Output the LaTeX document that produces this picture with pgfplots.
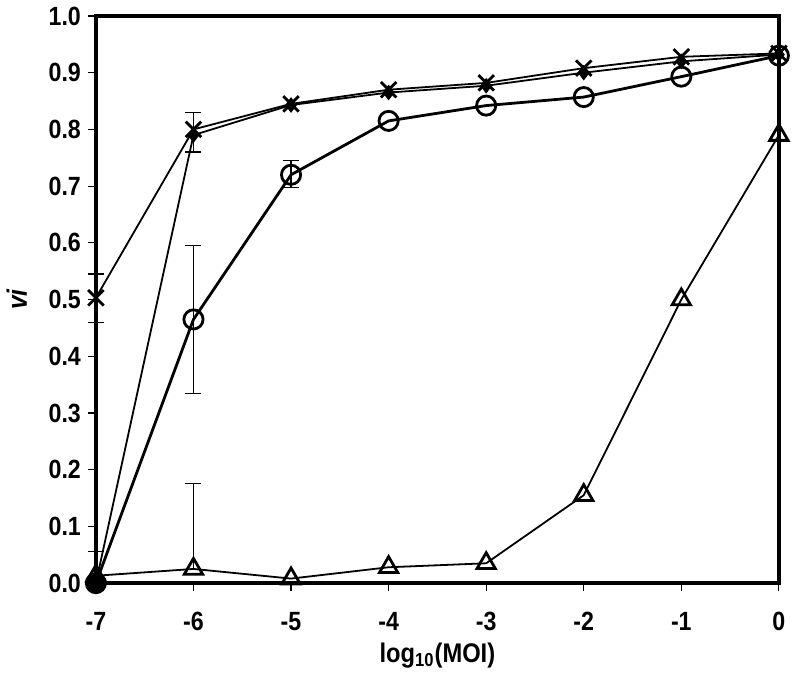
\documentclass[border=0pt]{standalone}
\usepackage{fontspec}
\setmainfont{Liberation Sans}[FakeStretch=0.88]
\usepackage{pgfplots}
\pgfplotsset{compat=1.18}
\begin{document}
\begin{tikzpicture}
\begin{axis}[
  scale only axis, width=342pt, height=284pt,
  xmin=-7, xmax=0, ymin=0, ymax=1,
  xtick={-7,-6,-5,-4,-3,-2,-1,0},
  ytick={0,0.1,0.2,0.3,0.4,0.5,0.6,0.7,0.8,0.9,1.0},
  yticklabel style={/pgf/number format/.cd, fixed, fixed zerofill, precision=1},
  /pgf/number format/assume math mode=true,
  tick label style={font=\fontsize{13.2}{15}\selectfont\bfseries},
  axis line style={line width=2pt},
  tick style={line width=0.6pt, black},
  tick align=outside, xtick pos=bottom, ytick pos=left,
  major tick length=4pt,
  xticklabel style={yshift=-7pt},
  clip=false,
  xlabel={\fontsize{13.5}{15}\selectfont\bfseries log\textsubscript{10}(MOI)},
  ylabel={\fontsize{14}{16}\selectfont\bfseries\itshape vi},
  xlabel style={yshift=1pt},
  ylabel style={yshift=4pt},
  error bars/error bar style={line width=0.6pt, black},
  error bars/error mark options={rotate=90, mark size=4pt, line width=0.6pt, black},
]
% Diamond series (thin)
\addplot[black, line width=0.9pt, mark=diamond*, mark size=3.2pt,
  error bars/.cd, y dir=both, y explicit] coordinates {
  (-7,0.0) += (0,0.056) -= (0,0)
  (-6,0.79) += (0,0.04) -= (0,0.03)
  (-5,0.843) (-4,0.865) (-3,0.877) (-2,0.900) (-1,0.920) (0,0.932)};
% Cross series (thin)
\addplot[black, line width=0.9pt, mark=x, mark size=5.5pt, mark options={line width=1.4pt},
  error bars/.cd, y dir=both, y explicit] coordinates {
  (-7,0.503) += (0,0.042) -= (0,0.043)
  (-6,0.800) (-5,0.845) (-4,0.870) (-3,0.882) (-2,0.908) (-1,0.928) (0,0.934)};
% Circle series (thick)
\addplot[black, line width=1.4pt, mark=o, mark size=4.8pt, mark options={line width=1.4pt},
  error bars/.cd, y dir=both, y explicit] coordinates {
  (-7,0.0)
  (-6,0.465) += (0,0.13) -= (0,0.13)
  (-5,0.720) += (0,0.025) -= (0,0.022)
  (-4,0.815) (-3,0.842) (-2,0.857) (-1,0.893) (0,0.930)};
% Triangle series (thin)
\addplot[black, line width=0.9pt, mark=triangle, mark size=5.3pt, mark options={line width=1.4pt},
  error bars/.cd, y dir=plus, y explicit] coordinates {
  (-7,0.013)
  (-6,0.025) += (0,0.15)
  (-5,0.008) (-4,0.028) (-3,0.035) (-2,0.155) (-1,0.500) (0,0.790)};
% filled dot at origin
\addplot[black, only marks, mark=*, mark size=5pt] coordinates {(-7,0.0)};
\end{axis}
\end{tikzpicture}
\end{document}
